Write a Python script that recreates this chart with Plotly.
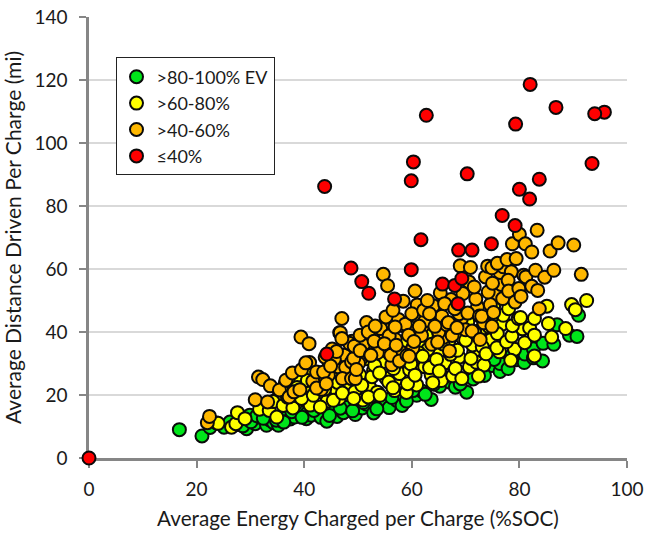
import plotly.graph_objects as go

green_x = [16.8,21.0,22.5,23.7,25.1,26.2,27.4,28.3,29.3,29.9,30.4,30.9,31.8,33.0,33.0,33.6,34.3,35.2,35.9,36.8,37.4,38.2,39.1,40.4,40.5,41.3,42.6,43.1,44.2,45.0,46.1,47.3,48.2,49.5,50.8,51.6,52.9,54.1,55.2,55.8,57.2,58.2,59.3,60.9,61.8,63.6,65.2,67.1,68.1,70.2,71.4,72.6,74.9,76.4,76.4,77.9,79.5,80.9,81.0,82.6,82.6,84.3,84.4,86.4,87.0,89.3,90.7,91.0,
           28.6,30.1,31.2,32.4,34.8,36.2,37.7,39.6,41.8,44.7,46.7,49.0,51.0,53.5,56.3,59.0,60.2,62.5,64.1,66.0,69.0,73.5,75.3,78.6]
green_y = [9.0,7.0,9.7,11.1,9.8,11.4,10.6,12.2,9.3,13.6,11.8,10.9,12.9,10.4,14.0,12.1,11.2,10.4,11.8,13.0,12.4,13.0,14.6,12.5,14.1,13.6,15.4,12.9,11.7,14.8,13.2,14.4,16.2,13.8,15.9,17.1,14.3,16.7,17.2,16.0,18.3,16.7,19.9,19.9,21.3,18.6,22.8,24.1,22.5,20.9,25.1,27.3,29.4,27.5,30.0,28.4,31.2,30.3,33.0,34.7,31.8,30.8,36.4,36.1,42.3,39.0,38.6,45.3,
           10.2,11.5,13.4,12.6,12.0,11.4,14.7,12.9,15.1,13.5,15.8,15.0,17.6,15.6,19.2,18.1,21.4,20.2,23.4,25.6,23.5,26.2,31.3,32.6]

yellow_x = [35.0,36.5,38.0,39.3,40.2,41.4,43.5,44.0,45.9,47.3,48.3,50.0,52.0,53.3,55.0,57.0,58.7,61.1,62.8,64.9,67.0,69.4,71.5,74.0,75.6,
            37.0,38.3,39.9,41.1,42.8,44.3,45.1,46.5,47.6,48.6,49.4,50.3,50.9,51.5,52.3,52.9,53.6,54.4,55.2,55.9,56.8,57.7,58.5,59.0,59.6,60.3,60.9,61.6,62.4,63.0,63.6,64.3,65.5,66.1,66.9,67.6,68.8,69.7,70.7,71.3,72.0,72.8,73.4,74.7,76.3,76.8,79.1,80.6,
            24.0,26.5,27.3,27.6,29.0,31.7,33.5,34.2,34.9,35.8,36.1,36.9,37.9,38.7,39.5,40.6,41.7,42.4,43.0,43.8,44.6,45.4,46.2,47.1,48.0,49.2,49.9,50.7,51.2,51.9,52.6,53.1,54.0,54.1,54.9,55.7,56.5,56.6,57.4,58.1,59.2,59.8,60.6,61.3,62.0,62.7,63.3,63.9,64.6,65.1,65.8,66.5,67.2,68.1,68.5,69.3,70.0,70.4,71.0,71.7,72.4,73.1,73.8,74.4,75.2,75.8,75.9,77.0,77.6,78.0,78.4,78.6,78.7,79.8,80.2,81.0,81.9,82.8,82.8,82.8,85.1,85.4,86.0,88.6,89.7,90.4,92.5]
yellow_y = [18.8,23.6,21.2,25.0,20.9,27.3,24.8,20.0,21.9,26.5,24.2,32.1,24.3,33.7,29.2,24.9,30.9,28.5,35.7,33.4,30.1,38.2,33.6,39.3,43.1,
            24.1,17.0,22.6,16.8,23.4,18.1,25.7,18.9,23.1,29.6,21.0,26.4,18.4,31.5,22.1,27.8,20.9,30.4,25.3,33.0,21.4,26.8,34.8,20.8,28.0,31.1,23.2,36.6,29.0,34.5,26.4,38.1,24.6,30.2,37.2,26.1,32.0,42.4,28.9,35.9,30.4,40.8,29.5,37.6,33.7,42.5,34.5,41.0,
            11.0,9.8,10.9,14.4,12.5,15.5,15.1,17.9,13.0,21.5,16.7,19.3,15.9,22.4,18.9,24.6,19.9,26.1,16.2,21.8,28.9,18.3,24.0,20.6,27.4,18.9,30.3,23.1,33.2,19.4,25.8,29.4,27.0,19.9,35.1,24.1,22.3,28.4,31.2,36.8,23.6,29.9,26.3,33.4,32.3,38.9,28.7,23.9,31.3,27.6,36.2,40.6,32.9,28.4,34.2,25.2,37.4,43.2,31.6,39.8,26.0,35.3,33.1,41.6,48.0,35.0,39.5,45.3,36.9,47.4,31.0,38.7,42.0,44.3,44.6,36.6,41.3,32.4,39.0,44.3,48.2,42.7,38.4,41.1,48.7,47.1,50.0]

orange_x = [43.9,45.2,46.4,47.5,48.9,50.6,51.3,52.1,53.8,54.6,55.5,56.9,58.2,59.8,60.8,62.0,63.0,64.6,65.9,67.3,69.2,70.6,72.2,75.6,76.6,
            41.0,43.2,44.5,45.6,47.7,48.4,50.1,51.0,51.6,52.7,53.6,54.2,55.8,56.3,57.5,58.0,58.8,60.2,61.0,61.8,62.5,63.7,64.0,65.0,65.6,66.5,67.5,68.8,69.0,70.0,70.9,71.9,73.4,73.7,74.6,76.4,76.9,77.0,78.5,80.8,
            22.0,22.4,30.9,31.5,32.3,33.2,33.7,35.4,36.6,37.2,37.8,38.1,39.2,39.4,39.5,40.3,40.9,41.6,42.3,42.3,43.6,44.1,44.9,46.0,46.6,46.7,47.0,47.0,47.1,48.8,48.8,49.2,49.3,49.5,49.7,50.4,50.4,51.9,52.3,52.4,53.0,53.2,54.7,54.9,55.2,55.5,56.1,56.5,56.9,57.1,57.7,58.4,59.1,59.4,59.5,60.0,60.4,60.6,61.4,62.2,62.9,63.3,64.3,64.8,65.3,66.1,66.8,67.0,68.0,68.4,69.5,70.4,71.2,71.6,72.6,72.7,73.0,74.1,74.2,74.9,74.9,75.0,75.2,75.9,77.7,77.9,78.0,78.7,79.2,79.4,79.9,80.0,80.3,81.1,81.2,82.3,82.3,83.0,83.3,83.4,83.7,84.7,85.7,86.4,87.2,90.1,91.5]
orange_y = [32.0,34.6,28.9,32.6,37.1,31.6,38.3,35.8,39.8,34.4,40.6,37.7,42.1,40.2,45.0,41.8,47.8,44.4,38.3,50.3,44.1,55.9,47.9,51.9,55.1,
            30.3,21.8,26.3,31.4,28.8,36.4,30.0,36.0,43.0,38.6,33.4,41.1,38.8,29.6,44.0,33.6,42.5,34.9,48.6,38.9,43.6,36.1,48.3,39.9,45.0,42.3,38.9,45.8,61.0,40.7,60.5,50.5,42.9,57.5,48.7,58.9,50.6,60.7,59.1,58.0,
            11.2,13.2,18.5,25.7,24.9,17.8,22.9,21.6,24.7,19.4,27.0,21.0,21.7,38.4,28.0,30.2,36.3,24.4,27.3,22.2,27.3,23.6,29.2,33.8,39.8,39.8,37.9,44.3,25.2,30.5,25.2,31.6,35.5,25.2,28.1,39.0,34.1,40.0,32.6,32.6,37.1,41.9,58.3,36.3,44.8,54.7,32.6,46.9,41.6,35.8,30.8,49.8,32.6,39.0,32.3,45.8,37.0,53.0,41.8,46.9,50.0,45.8,41.8,36.8,52.4,49.0,43.0,34.0,47.4,41.4,52.2,46.0,40.3,54.3,45.1,37.6,45.0,60.9,52.7,41.8,60.4,55.5,46.2,61.8,63.0,56.4,53.0,68.0,49.5,63.3,53.8,71.0,51.3,68.0,57.5,54.5,65.4,59.6,72.3,53.2,47.4,57.4,65.7,59.6,68.3,67.6,58.3]

red_x = [0,43.8,44.2,48.7,50.7,52.0,56.8,59.9,59.9,60.3,61.7,62.7,65.7,68.0,68.6,68.7,69.3,70.3,71.2,74.8,76.8,79.2,79.3,80.0,81.9,82.0,83.7,86.8,93.5,95.8,94.0]
red_y = [0,86.2,33.0,60.3,56.0,52.3,50.5,88.0,59.8,94.0,69.3,108.8,55.2,54.8,49.0,66.0,57.0,90.2,66.0,68.0,77.0,73.8,106.0,85.3,82.2,118.6,88.5,111.3,93.5,109.8,109.3]

series = [
    (">80-100% EV", green_x, green_y, "#00e51a"),
    (">60-80%", yellow_x, yellow_y, "#ffff00"),
    (">40-60%", orange_x, orange_y, "#ffb800"),
    ("≤40%", red_x, red_y, "#ff0000"),
]
FONT = "Lato, Carlito, Calibri, sans-serif"
fig = go.Figure()
for name, xs, ys, col in series:
    fig.add_trace(go.Scatter(x=xs, y=ys, mode="markers", name=name, cliponaxis=False,
                             marker=dict(size=13, color=col, line=dict(color="#0a0a0a", width=2))))
axis = dict(showline=True, linecolor="#868686", linewidth=2.5, ticks="outside", ticklen=7,
            tickwidth=1.5, tickcolor="#868686", zeroline=False, automargin=False, layer="below traces",
            ticklabeloverflow="allow", tickfont=dict(size=19, color="#1a1a1a"))
fig.update_xaxes(range=[0, 100], dtick=20, showgrid=False, ticklabelstandoff=5, **axis,
                 title=dict(text="Average Energy Charged per Charge (%SOC)", standoff=13,
                            font=dict(size=20.7, color="#1a1a1a")))
fig.update_yaxes(range=[0, 140], dtick=20, showgrid=True, gridcolor="#d9d9d9", gridwidth=1.5,
                 ticklabelstandoff=8, **axis,
                 title=dict(text="Average Distance Driven Per Charge (mi)", standoff=10,
                            font=dict(size=21, color="#1a1a1a")))
fig.update_layout(width=645, height=533, autosize=False, plot_bgcolor="white", paper_bgcolor="white",
                  font=dict(family=FONT), margin=dict(l=89, r=18, t=16.5, b=75.3),
                  legend=dict(xref="paper", yref="paper", x=(115.5-89)/538, y=1-(57-16.5)/441.2,
                              xanchor="left", yanchor="top", bgcolor="white",
                              bordercolor="#222222", borderwidth=1,
                              font=dict(size=18, color="#1a1a1a"), itemwidth=30))
fig.write_html("out.html", config={"displayModeBar": False},
               post_script="document.body.style.margin='0';")
